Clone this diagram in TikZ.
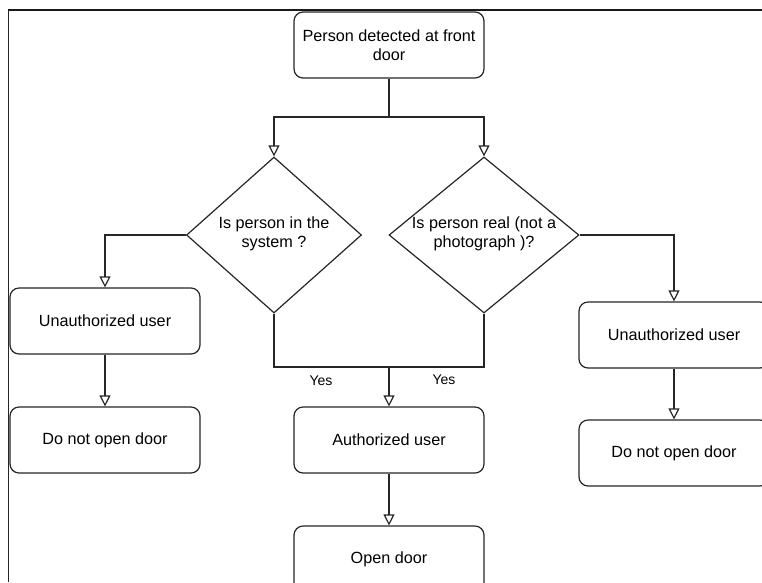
\documentclass[tikz,border=0pt]{standalone}
\usepackage{fontspec}
\setmainfont{Liberation Sans}
\usetikzlibrary{shapes.geometric,arrows.meta}
\begin{document}
\begin{tikzpicture}[x=1pt,y=-1pt,
  line width=1.2pt,
  box/.style={draw=black!85, rounded corners=9pt, minimum width=190pt, minimum height=66pt, inner sep=0pt, align=center, font=\fontsize{16.2}{19}\selectfont},
  dia/.style={draw=black!85, diamond, inner sep=0pt},
  txt/.style={align=center, font=\fontsize{16.2}{19}\selectfont, inner sep=0pt},
  lbl/.style={font=\fontsize{14}{16}\selectfont, inner sep=0pt},
  arr/.style={draw=black!85, -{Triangle[open, length=11pt, width=11pt]}},
  con/.style={draw=black!85}
]
\useasboundingbox (0,0) rectangle (762,582);
\clip (0,0) rectangle (762,582);
\fill[white] (0,0) rectangle (762,582);
% frame
\draw[line width=1.1pt, black!85] (8.5,582) -- (8.5,10);
\draw[line width=2.2pt, black!90] (8,10) -- (762,10);

% nodes
\node[box] (top) at (389,45) {Person detected at front\\door};
\node[dia, minimum width=175pt, minimum height=156pt] (d1) at (274,235) {};
\node[txt] (d1t) at (274,234) {Is person in the\\system ?};
\node[dia, minimum width=190pt, minimum height=156pt] (d2) at (484,235) {};
\node[txt] (d2t) at (484,234) {Is person real (not a\\photograph )?};
\node[box] (u1) at (105,321) {Unauthorized user};
\node[box] (n1) at (105,440) {Do not open door};
\node[box] (auth) at (389,440) {Authorized user};
\node[box] (open) at (389,559) {Open door};
\node[box] (u2) at (674,335) {Unauthorized user};
\node[box] (n2) at (674,453) {Do not open door};

\coordinate (split) at (389,117);
\coordinate (join) at (389,367);

% connectors
\draw[con] (top.south) -- (split);
\draw[arr] (split) -| (d1.north);
\draw[arr] (split) -| (d2.north);
\draw[arr] (d1.west) -| (u1.north);
\draw[arr] (u1.south) -- (n1.north);
\draw[con] (d1.south) |- (join);
\draw[con] (d2.south) |- (join);
\draw[arr] (join) -- (auth.north);
\draw[arr] (auth.south) -- (open.north);
\draw[arr] (d2.east) -| (u2.north);
\draw[arr] (u2.south) -- (n2.north);

\node[lbl] (yes1) at (321,381) {Yes};
\node[lbl] (yes2) at (444,380) {Yes};
\end{tikzpicture}
\end{document}
